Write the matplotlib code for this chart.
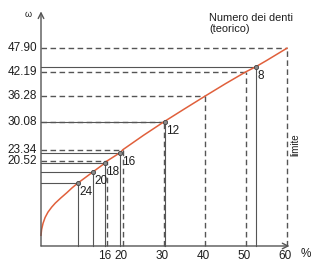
import matplotlib.pyplot as plt

plt.rcParams['font.family'] = ['Liberation Sans', 'DejaVu Sans']

# theoretical reference values (dashed lines)
ref_pct = [16, 20, 30, 40, 50, 60]
ref_omega = [20.52, 23.34, 30.08, 36.28, 42.19, 47.90]
ref_labels = ['20.52', '23.34', '30.08', '36.28', '42.19', '47.90']

# actual tooth-count points (solid lines)
teeth = ['24', '20', '18', '16', '12', '8']
teeth_pct = [8.95, 12.75, 15.5, 19.3, 30.2, 52.4]
teeth_omega = [15.2, 18.0, 20.0, 22.6, 30.1, 43.4]

# curve
curve_pct = [0, 0.15, 0.5, 1.0, 1.7, 2.6, 3.5, 4.8, 6.3, 7.6, 8.95, 12.75, 15.5, 16, 19.3, 20,
             25, 30, 35, 40, 45, 50, 52.4, 55, 60]
curve_omega = [2.6, 4.0, 5.5, 6.9, 8.2, 9.4, 10.4, 11.6, 12.9, 14.1, 15.2, 18.0, 20.0, 20.52,
               22.6, 23.34, 26.8, 30.08, 33.2, 36.28, 39.3, 42.19, 43.4, 44.9, 47.90]

gray = '#555555'
red = '#e0603c'
txt = '#1e1e1e'

fig = plt.figure(figsize=(3.13, 2.64), dpi=100)
ax = fig.add_axes([0, 0, 1, 1])
ax.set_xlim(-10, 66.34)
ax.set_ylim(-4.36, 59.56)
ax.axis('off')

# dashed reference lines
for p, w in zip(ref_pct, ref_omega):
    ax.plot([0, p], [w, w], color=gray, lw=1.0, ls=(0, (4, 2.5)))
    ax.plot([p, p], [0, w], color=gray, lw=1.0, ls=(0, (4, 2.5)))

# solid tooth lines
for p, w in zip(teeth_pct, teeth_omega):
    ax.plot([0, p], [w, w], color=gray, lw=0.8)
    ax.plot([p, p], [0, w], color=gray, lw=0.8)

ax.plot(curve_pct, curve_omega, color=red, lw=1.1, zorder=3)
ax.scatter(teeth_pct, teeth_omega, s=9, color='#8a8a8a', edgecolor='#444444',
           linewidth=0.6, zorder=4)

for t, p, w in zip(teeth, teeth_pct, teeth_omega):
    ax.text(p + 0.4, w - 0.7, t, fontsize=8.5, ha='left', va='top', color=txt)

# axes with arrows
ax.annotate('', xy=(0, 56.8), xytext=(0, 0),
            arrowprops=dict(arrowstyle='->', color=gray, lw=1.0, shrinkA=0, shrinkB=0))
ax.annotate('', xy=(60.6, 0), xytext=(0, 0),
            arrowprops=dict(arrowstyle='->', color=gray, lw=1.0, shrinkA=0, shrinkB=0))

for p in ref_pct:
    ax.text(p - 0.4, -2.5, str(p), fontsize=8.5, ha='center', va='center', color=txt)
for w, lab in zip(ref_omega, ref_labels):
    ax.text(-1.0, w, lab, fontsize=8.5, ha='right', va='center', color=txt)

ax.text(-3.2, 56.0, 'ω', fontsize=6.5, ha='center', va='center', color=txt)
ax.text(64.6, -1.9, '%', fontsize=8.5, ha='center', va='center', color=txt)
ax.text(62.0, 24.5, 'limite', fontsize=7, rotation=90, ha='center', va='center', color=txt)
ax.text(41, 56.4, 'Numero dei denti\n(teorico)', fontsize=7.9, ha='left', va='top',
        color=txt, linespacing=1.1)

fig.savefig('out.png', dpi=100)
